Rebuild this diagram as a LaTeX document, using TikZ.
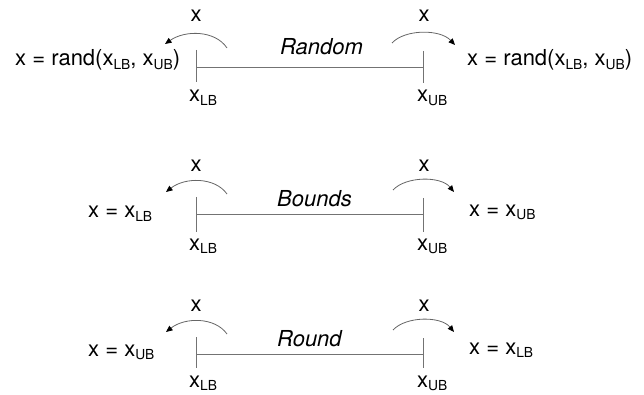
\documentclass[tikz,border=0pt]{standalone}
\usepackage{fontspec}
\setmainfont{TeX Gyre Heros}
\usetikzlibrary{arrows.meta}
\newcommand\sbs[1]{\raisebox{-0.17em}{\fontsize{13.8}{14}\selectfont #1}}
\begin{document}
\begin{tikzpicture}[x=1pt,y=-1pt,
  txt/.style={inner sep=0pt,font=\fontsize{22}{24}\selectfont},
  itxt/.style={txt,font=\fontsize{22}{24}\selectfont\itshape},
  axis/.style={draw=black!55,line width=0.8pt},
  arc/.style={draw=black!60,line width=0.8pt,-{Triangle[black,length=6.5pt,width=5.5pt]}}]
\useasboundingbox (0,0) rectangle (644,395);
% ---------- Row 1: Random
\coordinate (lt1) at (196,50); \coordinate (lb1) at (196,82);
\coordinate (rt1) at (423,51); \coordinate (rb1) at (423,83);
\coordinate (l1) at (196,67); \coordinate (r1) at (423,67);
\draw[axis] (lt1) -- (lb1);
\draw[axis] (rt1) -- (rb1);
\draw[axis] (l1) -- (r1);
\coordinate (as1) at (227,48); \coordinate (ae1) at (165,44);
\coordinate (bs1) at (392,43); \coordinate (be1) at (455,45);
\draw[arc] (as1) .. controls (215,30) and (185,30) .. (ae1);
\draw[arc] (bs1) .. controls (405,29) and (440,29) .. (be1);
\node[txt,anchor=base] (xl1) at (196,22) {x};
\node[txt,anchor=base] (xr1) at (424,22) {x};
\node[txt,anchor=base west] (lbl1) at (189,102) {x\sbs{LB}};
\node[txt,anchor=base west] (ubl1) at (417,102) {x\sbs{UB}};
\node[txt,anchor=base west] (el1) at (15,66) {x = rand(x\sbs{LB}, x\sbs{UB})};
\node[txt,anchor=base west] (er1) at (467,66) {x = rand(x\sbs{LB}, x\sbs{UB})};
\node[itxt,anchor=base west] (t1) at (280,55) {Random};
% ---------- Row 2: Bounds
\coordinate (lt2) at (196,197); \coordinate (lb2) at (196,232);
\coordinate (rt2) at (423,198); \coordinate (rb2) at (423,232);
\coordinate (l2) at (196,214); \coordinate (r2) at (423,214);
\draw[axis] (lt2) -- (lb2);
\draw[axis] (rt2) -- (rb2);
\draw[axis] (l2) -- (r2);
\coordinate (as2) at (227,194); \coordinate (ae2) at (166,192);
\coordinate (bs2) at (393,190); \coordinate (be2) at (454,192);
\draw[arc] (as2) .. controls (215,177) and (185,177) .. (ae2);
\draw[arc] (bs2) .. controls (406,176) and (441,176) .. (be2);
\node[txt,anchor=base] (xl2) at (196,172) {x};
\node[txt,anchor=base] (xr2) at (424,172) {x};
\node[txt,anchor=base west] (lbl2) at (189,250) {x\sbs{LB}};
\node[txt,anchor=base west] (ubl2) at (417,250) {x\sbs{UB}};
\node[txt,anchor=base west] (el2) at (88,218) {x = x\sbs{LB}};
\node[txt,anchor=base west] (er2) at (469,216) {x = x\sbs{UB}};
\node[itxt,anchor=base west] (t2) at (277,207) {Bounds};
% ---------- Row 3: Round
\coordinate (lt3) at (196,337); \coordinate (lb3) at (196,368);
\coordinate (rt3) at (423,338); \coordinate (rb3) at (423,368);
\coordinate (l3) at (196,354); \coordinate (r3) at (423,354);
\draw[axis] (lt3) -- (lb3);
\draw[axis] (rt3) -- (rb3);
\draw[axis] (l3) -- (r3);
\coordinate (as3) at (227,334); \coordinate (ae3) at (166,332);
\coordinate (bs3) at (393,330); \coordinate (be3) at (454,332);
\draw[arc] (as3) .. controls (215,317) and (185,317) .. (ae3);
\draw[arc] (bs3) .. controls (406,316) and (441,316) .. (be3);
\node[txt,anchor=base] (xl3) at (196,311) {x};
\node[txt,anchor=base] (xr3) at (424,311) {x};
\node[txt,anchor=base west] (lbl3) at (189,387) {x\sbs{LB}};
\node[txt,anchor=base west] (ubl3) at (417,387) {x\sbs{UB}};
\node[txt,anchor=base west] (el3) at (88,356) {x = x\sbs{UB}};
\node[txt,anchor=base west] (er3) at (469,354) {x = x\sbs{LB}};
\node[itxt,anchor=base west] (t3) at (277,346) {Round};
\end{tikzpicture}
\end{document}
